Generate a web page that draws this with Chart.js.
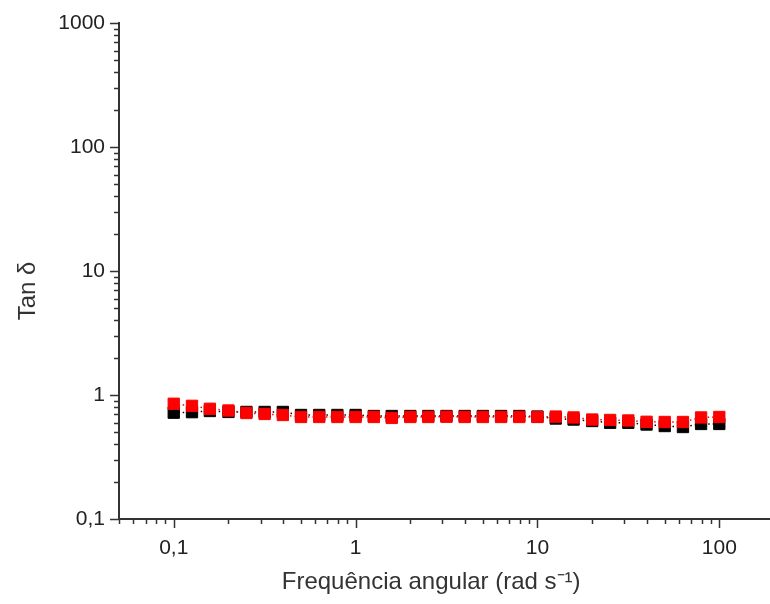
<!DOCTYPE html>
<html>
<head>
<meta charset="utf-8">
<script src="https://cdn.jsdelivr.net/npm/chart.js@4.4.1/dist/chart.umd.min.js"></script>
<style>
  html, body { margin: 0; padding: 0; background: #fff; overflow: hidden; }
  #wrap { width: 770px; height: 604px; overflow: hidden; }
</style>
</head>
<body>
<div id="wrap"><canvas id="tanChart" width="779" height="604"></canvas></div>
<script>
// frequência angular (rad/s), 10 pontos por década
const freq = [0.1, 0.126, 0.158, 0.2, 0.251, 0.316, 0.398, 0.501, 0.631, 0.794,
              1, 1.26, 1.58, 2, 2.51, 3.16, 3.98, 5.01, 6.31, 7.94,
              10, 12.6, 15.8, 20, 25.1, 31.6, 39.8, 50.1, 63.1, 79.4, 100];

// tan delta - série preta
const tanBlack = [0.72, 0.727, 0.743, 0.73, 0.73, 0.73, 0.73, 0.69, 0.69, 0.69,
                  0.69, 0.677, 0.677, 0.677, 0.677, 0.677, 0.677, 0.677, 0.677, 0.677,
                  0.67, 0.646, 0.634, 0.617, 0.597, 0.597, 0.578, 0.562, 0.552, 0.584, 0.584];

// tan delta - série vermelha
const tanRed = [0.85, 0.818, 0.774, 0.75, 0.716, 0.703, 0.69, 0.665, 0.665, 0.665,
                0.665, 0.665, 0.653, 0.665, 0.665, 0.668, 0.665, 0.665, 0.665, 0.665,
                0.665, 0.67, 0.659, 0.634, 0.629, 0.623, 0.608, 0.606, 0.606, 0.659, 0.665];

const xLabels = [0.1, 1, 10, 100];
const yLabels = [0.1, 1, 10, 100, 1000];

function toPoints(ys) {
    return freq.map((f, i) => ({ x: f, y: ys[i] }));
}

// classifica o tick: potência de 10 = major, múltiplo inteiro = minor
function tickKind(v) {
    const e = Math.floor(Math.log10(v) + 1e-9);
    const s = v / Math.pow(10, e);
    if (Math.abs(s - 1) < 1e-6) return 'major';
    if (Math.abs(s - Math.round(s)) < 1e-6) return 'minor';
    return null;
}

function fmt(list) {
    return function (value) {
        const hit = list.find(v => Math.abs(v - value) / v < 1e-6);
        return hit === undefined ? '' : String(hit).replace('.', ',');
    };
}

// marcas de escala para fora, estilo Origin
const tickMarks = {
    id: 'tickMarks',
    afterDraw(chart) {
        const ctx = chart.ctx;
        const xs = chart.scales.x;
        const ys = chart.scales.y;
        ctx.save();
        ctx.strokeStyle = '#333';
        ctx.lineWidth = 1.5;
        xs.ticks.forEach(t => {
            const kind = tickKind(t.value);
            if (!kind) return;
            const px = Math.round(xs.getPixelForValue(t.value)) + 0.5;
            ctx.beginPath();
            ctx.moveTo(px, xs.top);
            ctx.lineTo(px, xs.top + (kind === 'major' ? 9 : 5));
            ctx.stroke();
        });
        ys.ticks.forEach(t => {
            const kind = tickKind(t.value);
            if (!kind) return;
            const py = Math.round(ys.getPixelForValue(t.value)) + 0.5;
            ctx.beginPath();
            ctx.moveTo(ys.right, py);
            ctx.lineTo(ys.right - (kind === 'major' ? 9 : 5), py);
            ctx.stroke();
        });
        ctx.restore();
    }
};

const font = 'Liberation Sans, Arial, sans-serif';
const nb = '\u00A0';

const ctx = document.getElementById('tanChart').getContext('2d');
new Chart(ctx, {
    type: 'scatter',
    data: {
        datasets: [{
            label: 'preto',
            data: toPoints(tanBlack),
            order: 2,
            showLine: true,
            borderColor: '#000',
            borderWidth: 1.5,
            borderDash: [1.5, 3],
            pointStyle: 'rect',
            pointRadius: 8,
            pointBorderWidth: 1,
            pointBackgroundColor: '#000',
            pointBorderColor: '#000'
        }, {
            label: 'vermelho',
            data: toPoints(tanRed),
            order: 1,
            showLine: true,
            borderColor: '#ff0000',
            borderWidth: 1.5,
            borderDash: [1.5, 3],
            pointStyle: 'rect',
            pointRadius: 8,
            pointBorderWidth: 1,
            pointBackgroundColor: '#ff0000',
            pointBorderColor: '#ff0000'
        }]
    },
    options: {
        responsive: false,
        animation: false,
        layout: { padding: { left: 0, right: 0, top: 23, bottom: 0 } },
        plugins: { legend: { display: false }, tooltip: { enabled: false } },
        scales: {
            x: {
                type: 'logarithmic',
                min: 0.05,
                max: 190,
                afterFit: s => { s.height = 85; s.paddingLeft = 0; s.paddingRight = 0; },
                grid: { drawOnChartArea: false, drawTicks: false },
                border: { display: true, color: '#333', width: 2 },
                ticks: {
                    autoSkip: false,
                    maxRotation: 0,
                    padding: 17,
                    color: '#222',
                    font: { family: font, size: 21 },
                    callback: fmt(xLabels)
                },
                title: {
                    display: true,
                    text: 'Frequência angular (rad s⁻¹)' + nb.repeat(4),
                    color: '#333',
                    font: { family: font, size: 24 },
                    padding: { top: 0, bottom: 7 }
                }
            },
            y: {
                type: 'logarithmic',
                min: 0.1,
                max: 1000,
                afterFit: s => { s.width = 119; s.paddingTop = 0; s.paddingBottom = 0; },
                grid: { drawOnChartArea: false, drawTicks: false },
                border: { display: true, color: '#333', width: 2 },
                ticks: {
                    autoSkip: false,
                    padding: 14,
                    color: '#222',
                    font: { family: font, size: 21 },
                    callback: fmt(yLabels)
                },
                title: {
                    display: true,
                    text: 'Tan δ' + nb.repeat(6),
                    color: '#333',
                    font: { family: font, size: 24 },
                    padding: { top: 14, bottom: 0 }
                }
            }
        }
    },
    plugins: [tickMarks]
});
</script>
</body>
</html>
